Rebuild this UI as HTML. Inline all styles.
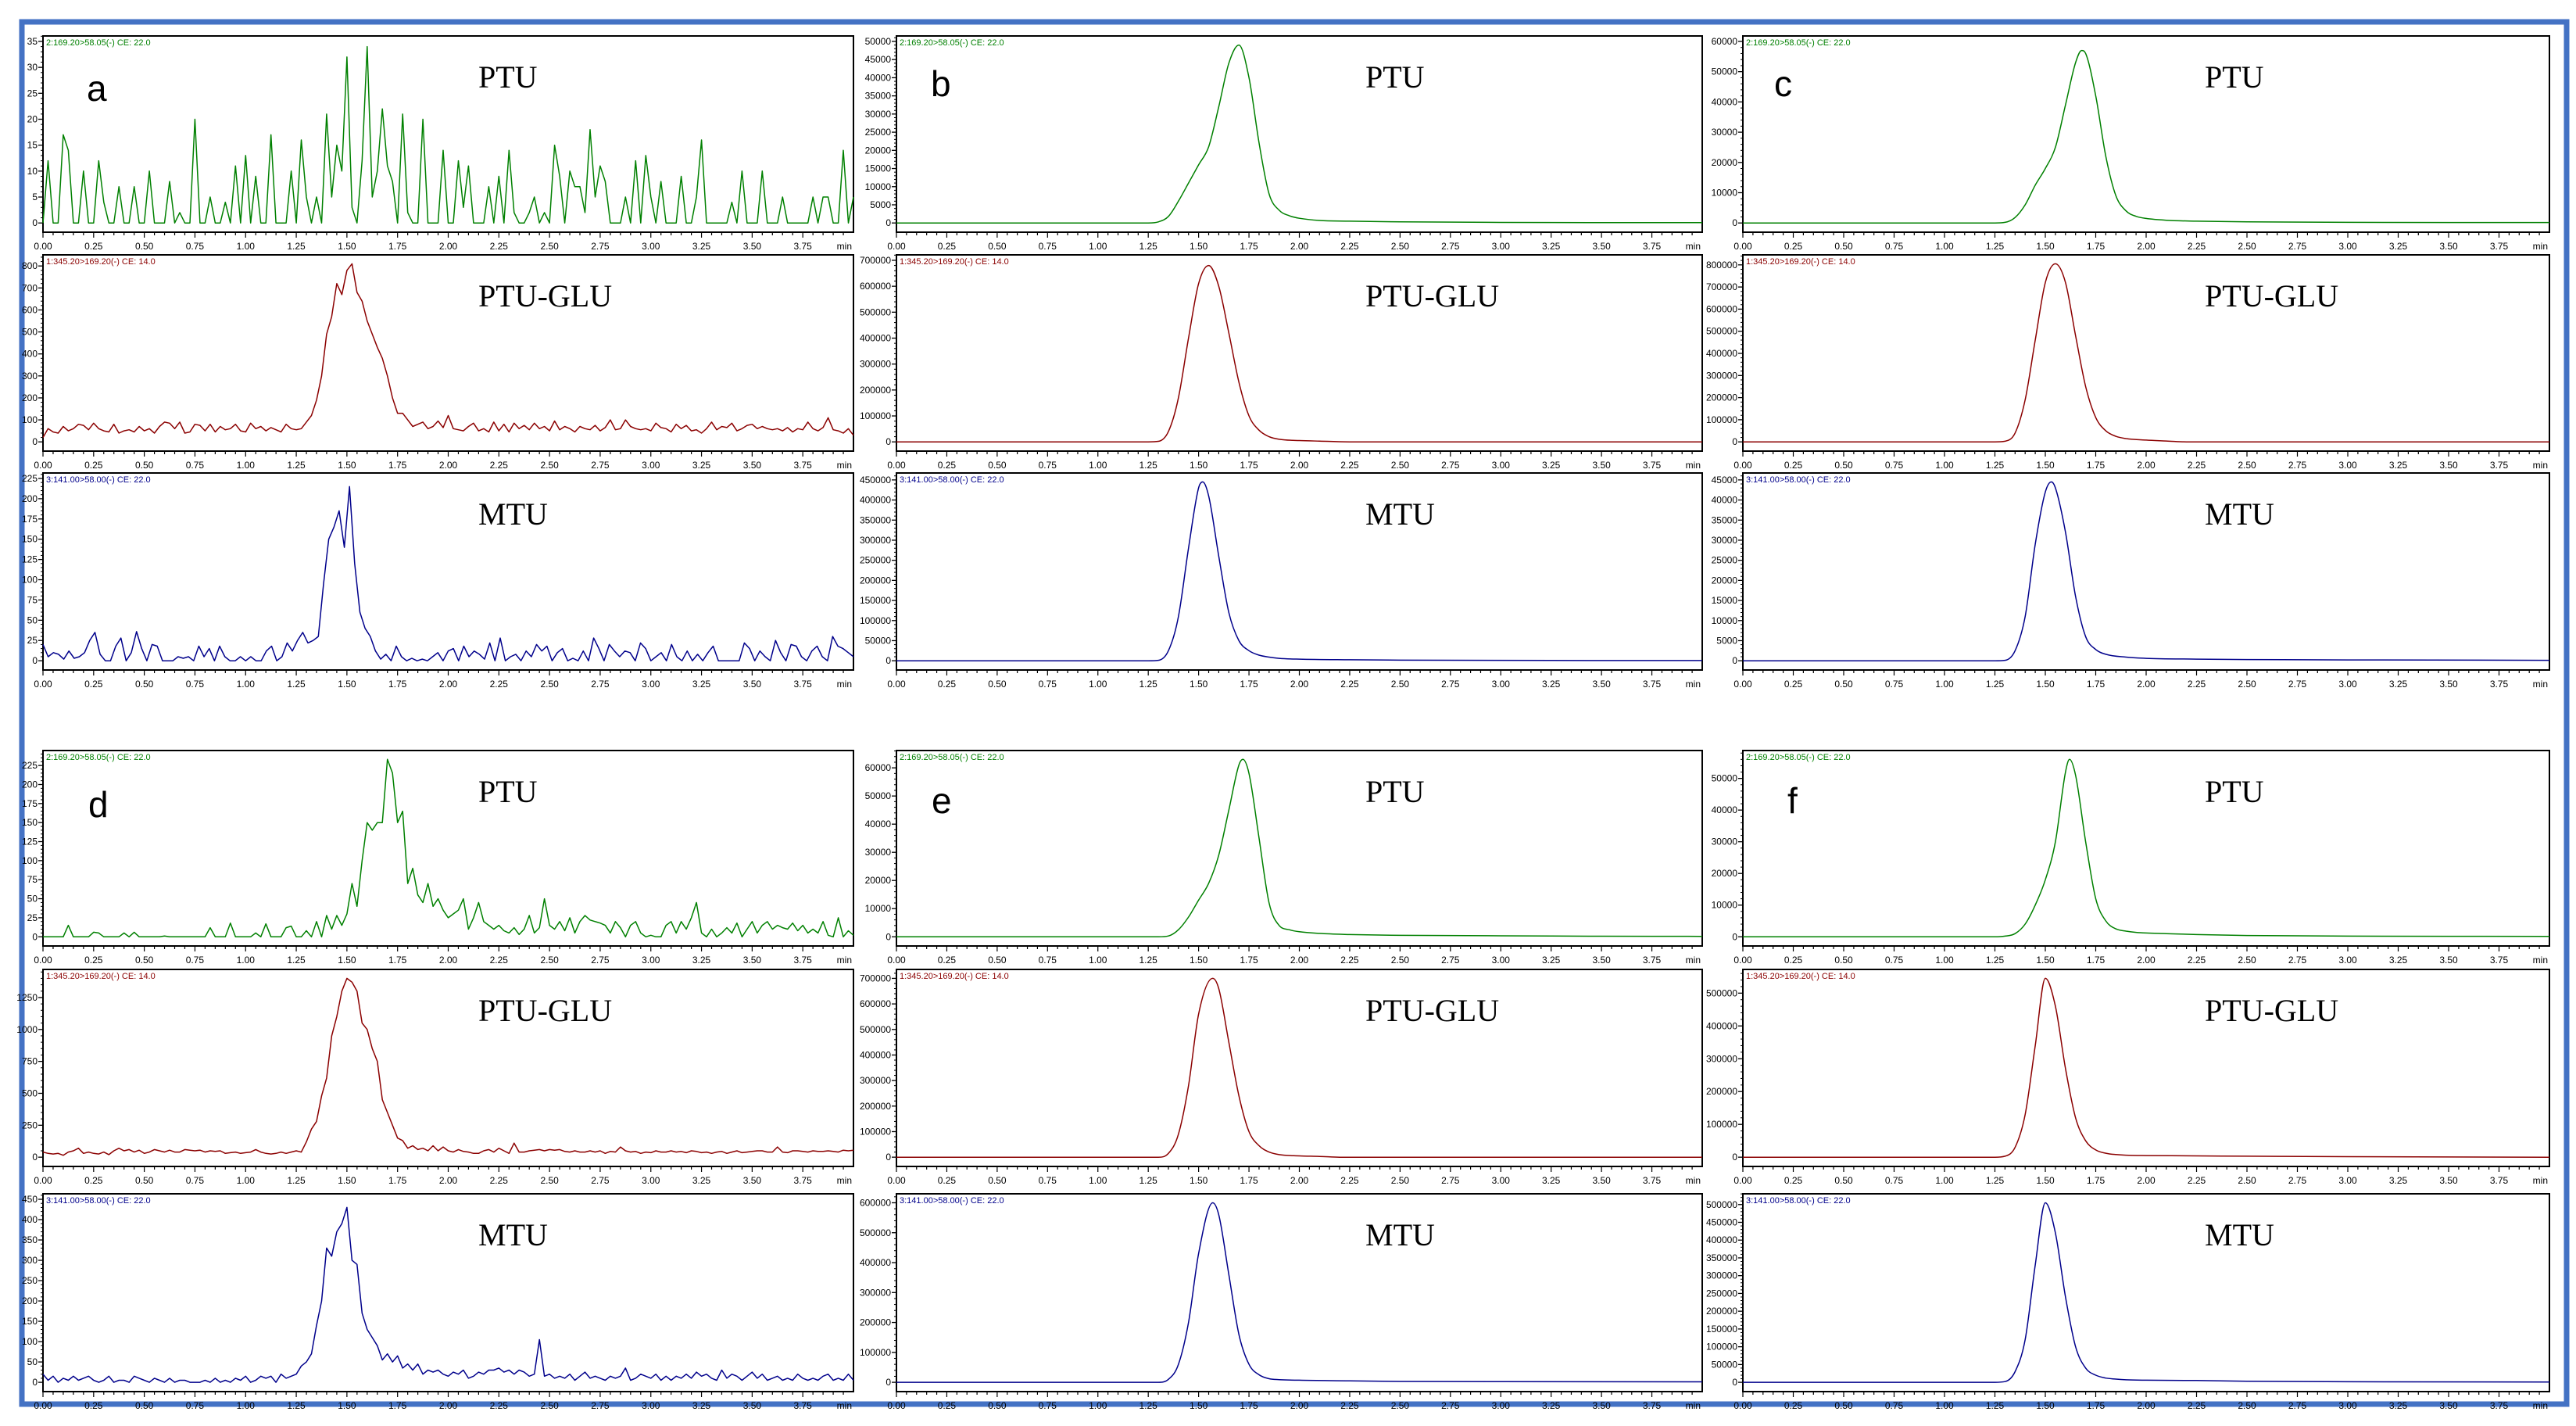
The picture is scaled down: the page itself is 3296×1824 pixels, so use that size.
<!DOCTYPE html>
<html><head><meta charset="utf-8"><title>Chromatograms</title>
<style>
html,body{margin:0;padding:0;background:#fff;}
svg{display:block;}
.tk{font-family:"Liberation Sans",sans-serif;font-size:12px;fill:#000;}
.hd{font-family:"Liberation Sans",sans-serif;font-size:11px;}
.ttl{font-family:"Liberation Serif",serif;font-size:40px;fill:#000;}
.lt{font-family:"Liberation Sans",sans-serif;font-size:46px;fill:#000;}
</style></head>
<body>
<svg id="fig" width="3296" height="1824" viewBox="0 0 3296 1824" xmlns="http://www.w3.org/2000/svg">
<rect x="28" y="28" width="3256" height="1768" fill="none" stroke="#4472C4" stroke-width="7"/>
<g id="panels"></g>
</svg>
<script>
// ---- data: smooth traces (time in min, intensity) ----
const bPtuT=[0,1.25,1.30,1.35,1.40,1.45,1.50,1.55,1.60,1.65,1.70,1.75,1.80,1.85,1.90,1.95,2.00,2.10,2.25,2.50,3.00,3.50,4.00];
const bPtuV=[0,0,300,1800,6000,11000,16000,21000,32000,44000,49000,40000,22000,8000,3500,2000,1300,700,500,300,150,100,100];
const bGluT=[0,1.25,1.30,1.35,1.40,1.45,1.50,1.55,1.60,1.65,1.70,1.75,1.80,1.85,1.90,2.00,2.10,2.25,4.0];
const bGluV=[0,0,2000,40000,170000,400000,610000,680000,600000,420000,230000,100000,45000,20000,10000,5000,3000,0,0];
const bMtuT=[0,1.25,1.30,1.35,1.40,1.45,1.50,1.52,1.55,1.60,1.65,1.70,1.75,1.80,1.85,1.90,2.00,2.25,2.50,4.0];
const bMtuV=[0,0,1000,25000,110000,280000,430000,445000,410000,260000,120000,50000,25000,14000,9000,6000,4000,2500,1500,500];
const cPtuT=[0,1.25,1.30,1.35,1.40,1.45,1.50,1.55,1.60,1.65,1.68,1.70,1.75,1.80,1.85,1.90,1.95,2.00,2.10,2.25,2.50,3.00,3.50,4.00];
const cPtuV=[0,0,200,1800,6000,12500,18000,25000,39000,53000,57000,56000,42000,22000,9000,4000,2200,1500,900,600,400,200,150,150];
const cGluT=[0,1.25,1.30,1.35,1.40,1.45,1.50,1.55,1.60,1.65,1.70,1.75,1.80,1.85,1.90,2.00,2.10,2.20,4.0];
const cGluV=[0,0,3000,40000,190000,460000,720000,805000,720000,480000,250000,110000,50000,25000,15000,8000,4000,0,0];
const cMtuT=[0,1.25,1.30,1.35,1.40,1.45,1.50,1.53,1.55,1.60,1.65,1.70,1.75,1.80,1.90,2.00,2.25,2.50,3.00,4.0];
const cMtuV=[0,0,100,2500,11000,29000,42000,44500,43000,32000,16000,6000,2800,1600,900,600,400,300,200,100];
const ePtuT=[0,1.30,1.35,1.40,1.45,1.50,1.55,1.60,1.65,1.70,1.72,1.75,1.80,1.85,1.90,1.95,2.00,2.10,2.25,2.50,3.00,3.50,4.00];
const ePtuV=[0,0,300,2500,7000,13000,19000,29000,45000,61000,63000,58000,35000,12000,4000,2500,1800,1200,800,500,350,200,150];
const eGluT=[0,1.30,1.35,1.40,1.45,1.50,1.57,1.60,1.65,1.70,1.75,1.80,1.85,1.90,2.00,2.10,2.20,4.0];
const eGluV=[0,0,15000,90000,280000,560000,700000,660000,450000,240000,100000,45000,20000,10000,5000,3000,0,0];
const eMtuT=[0,1.30,1.35,1.40,1.45,1.50,1.57,1.60,1.65,1.70,1.75,1.80,1.85,1.90,2.00,2.25,2.50,3.00,4.0];
const eMtuV=[0,0,10000,60000,200000,430000,600000,560000,360000,160000,60000,25000,12000,9000,7000,5000,3000,2000,1500];
const fPtuT=[0,1.25,1.30,1.35,1.40,1.45,1.50,1.55,1.60,1.62,1.65,1.70,1.75,1.80,1.85,1.90,1.95,2.00,2.10,2.25,2.50,3.00,3.50,4.00];
const fPtuV=[0,0,200,1000,4000,10000,18000,30000,52000,56000,51000,30000,12000,5000,2500,1800,1400,1200,1000,700,400,200,150,100];
const fGluT=[0,1.25,1.30,1.35,1.40,1.45,1.50,1.55,1.60,1.65,1.70,1.75,1.80,1.85,1.90,2.00,2.25,2.50,3.00,4.0];
const fGluV=[0,0,3000,30000,130000,340000,545000,460000,270000,120000,50000,22000,12000,8000,6000,5000,4000,3000,1500,0];
const fMtuT=[0,1.25,1.30,1.35,1.40,1.45,1.50,1.55,1.60,1.65,1.70,1.75,1.80,1.85,1.90,2.00,2.25,2.50,3.00,4.0];
const fMtuV=[0,0,2000,30000,120000,330000,505000,420000,240000,100000,40000,20000,12000,9000,7000,6000,5000,3000,1500,1000];
// ---- data: noisy traces, uniform sampling 0..4 min ----
const aPtuV=[0,12,0,0,17,14,0,0,10,0,0,12,4,0,0,7,0,0,7,0,0,10,0,0,0,8,0,2,0,0,20,0,0,5,0,0,4,0,11,0,13,0,9,0,0,17,0,0,0,10,0,16,5,0,5,0,21,5,15,10,32,3,0,12,34,5,10,22,11,8,0,21,2,0,0,20,0,0,0,14,0,0,12,3,11,0,0,0,7,0,9,0,14,2,0,0,2,5,0,2,0,15,9,0,10,7,7,2,18,5,11,8,0,0,0,5,0,12,0,13,5,0,8,0,0,0,9,0,0,5,16,0,0,0,0,0,4,0,10,0,0,0,10,0,0,0,5,0,0,0,0,0,5,0,5,5,0,0,14,0,5];
const aGluV=[20,60,45,40,70,50,60,80,75,55,85,60,50,45,80,40,50,55,45,70,50,60,40,70,90,85,60,90,40,45,80,75,50,80,45,70,55,60,80,50,45,85,60,70,50,65,55,45,80,60,55,
60,90,120,190,300,490,570,720,670,780,810,680,640,550,490,430,380,300,200,130,130,100,70,
80,90,60,70,95,65,120,60,55,50,70,85,50,60,45,90,50,80,45,85,60,75,55,85,60,70,50,95,55,70,60,45,70,60,55,75,50,65,100,55,60,100,70,60,55,60,50,85,65,60,45,80,60,75,50,55,40,60,90,55,70,65,85,50,60,75,80,60,70,60,55,60,50,65,45,60,55,90,60,50,65,110,55,50,40,60,30];
const aMtuV=[20,5,10,8,2,12,3,5,10,25,35,8,0,0,18,28,0,10,36,15,0,20,18,0,0,0,5,3,5,0,18,5,15,0,18,5,0,0,5,0,5,0,0,12,18,0,5,22,12,25,
35,22,25,30,95,150,165,185,140,215,120,60,40,30,12,2,8,
0,18,5,0,3,0,2,0,5,10,0,12,15,0,18,5,12,8,2,22,0,28,0,5,8,0,12,5,20,12,18,0,10,15,0,3,0,12,0,28,15,0,20,12,5,12,10,0,22,15,0,5,10,0,20,5,0,12,0,8,0,10,18,0,0,0,0,0,22,15,0,12,5,0,25,10,0,20,18,5,0,12,18,5,0,30,18,15,10,5];
const dPtuV=[0,0,0,0,0,15,0,0,0,0,6,5,0,0,0,0,5,0,6,0,0,0,0,0,1,0,0,0,0,0,0,0,0,12,0,0,0,18,0,0,0,0,5,0,17,0,0,0,12,14,0,0,8,0,20,0,
28,10,28,15,30,70,40,100,150,140,150,150,233,215,150,165,70,90,55,45,70,40,50,35,25,30,35,50,10,25,45,20,15,
10,15,8,5,12,3,10,28,5,12,50,15,10,20,8,25,5,20,28,22,20,18,15,5,20,12,0,15,20,5,0,2,0,0,15,20,5,20,10,25,45,5,0,10,0,5,12,5,18,0,10,20,5,15,20,10,15,12,10,18,8,15,5,10,5,20,2,0,25,0,8,2];
const dGluV=[40,30,25,30,15,40,50,70,30,40,30,25,40,20,50,70,50,60,40,55,30,40,60,50,40,55,40,40,60,55,50,55,40,50,45,50,30,35,40,30,35,40,60,40,30,25,30,40,30,40,50,40,
120,220,280,480,620,950,1100,1300,1400,1370,1300,1050,1000,850,750,450,350,250,150,130,70,90,60,
70,50,90,50,80,50,40,60,45,40,30,30,50,60,40,70,50,30,110,40,40,50,55,60,50,60,55,60,45,40,50,40,40,50,40,50,30,45,40,80,50,40,45,30,40,35,50,40,40,50,40,45,35,50,45,35,40,30,40,45,30,40,50,35,40,45,50,50,40,40,80,40,35,50,50,45,40,50,45,45,50,45,40,55,50,55];
const dMtuV=[20,5,15,0,10,5,15,5,10,15,5,0,5,15,0,5,5,0,15,10,5,0,10,5,0,10,0,5,5,0,0,0,5,0,10,0,5,0,10,5,15,0,5,15,10,15,0,20,10,15,
20,40,50,70,140,200,330,310,370,390,430,300,290,170,130,110,90,55,70,50,65,35,45,30,45,20,30,25,30,20,15,
25,20,30,10,15,25,20,30,30,35,25,30,20,30,25,15,20,105,15,20,10,15,10,20,5,15,25,10,15,10,5,15,10,15,35,5,10,20,15,10,20,5,15,5,15,10,20,10,25,15,20,10,5,30,10,20,15,5,15,25,10,20,5,10,15,5,10,5,20,10,5,10,5,15,20,5,10,5,20,5];
// ---- axis labels ----
const xTickLabels=["0.00","0.25","0.50","0.75","1.00","1.25","1.50","1.75","2.00","2.25","2.50","2.75","3.00","3.25","3.50","3.75"];
const HDR={ptu:"2:169.20>58.05(-) CE: 22.0",glu:"1:345.20>169.20(-) CE: 14.0",mtu:"3:141.00>58.00(-) CE: 22.0"};
const COL={ptu:"#008000",glu:"#8B0000",mtu:"#00008B"};
const NAME={ptu:"PTU",glu:"PTU-GLU",mtu:"MTU"};
const colX=[[55,1092],[1147,2178],[2230,3262]];
const rowY=[[46,297],[326,577],[605,857],[960,1210],[1240,1492],[1527,1780]];
const titleX=[612,1747,2821];
const panels=[
 {id:"a",c:0,r:0,k:"ptu",v:aPtuV,step:5,lmax:35},
 {id:"a",c:0,r:1,k:"glu",v:aGluV,step:100,lmax:800},
 {id:"a",c:0,r:2,k:"mtu",v:aMtuV,step:25,lmax:225},
 {id:"b",c:1,r:0,k:"ptu",t:bPtuT,v:bPtuV,step:5000,lmax:50000},
 {id:"b",c:1,r:1,k:"glu",t:bGluT,v:bGluV,step:100000,lmax:700000},
 {id:"b",c:1,r:2,k:"mtu",t:bMtuT,v:bMtuV,step:50000,lmax:450000},
 {id:"c",c:2,r:0,k:"ptu",t:cPtuT,v:cPtuV,step:10000,lmax:60000},
 {id:"c",c:2,r:1,k:"glu",t:cGluT,v:cGluV,step:100000,lmax:800000},
 {id:"c",c:2,r:2,k:"mtu",t:cMtuT,v:cMtuV,step:5000,lmax:45000},
 {id:"d",c:0,r:3,k:"ptu",v:dPtuV,step:25,lmax:225},
 {id:"d",c:0,r:4,k:"glu",v:dGluV,step:250,lmax:1250},
 {id:"d",c:0,r:5,k:"mtu",v:dMtuV,step:50,lmax:450},
 {id:"e",c:1,r:3,k:"ptu",t:ePtuT,v:ePtuV,step:10000,lmax:60000},
 {id:"e",c:1,r:4,k:"glu",t:eGluT,v:eGluV,step:100000,lmax:700000},
 {id:"e",c:1,r:5,k:"mtu",t:eMtuT,v:eMtuV,step:100000,lmax:600000},
 {id:"f",c:2,r:3,k:"ptu",t:fPtuT,v:fPtuV,step:10000,lmax:50000},
 {id:"f",c:2,r:4,k:"glu",t:fGluT,v:fGluV,step:100000,lmax:500000},
 {id:"f",c:2,r:5,k:"mtu",t:fMtuT,v:fMtuV,step:50000,lmax:500000}
];
const letterPos={a:[111,129],b:[1191,123],c:[2270,123],d:[113,1045],e:[1192,1040],f:[2287,1040]};
const NS="http://www.w3.org/2000/svg";
const root=document.getElementById("panels");
function mk(tag,attrs,parent){const e=document.createElementNS(NS,tag);for(const k in attrs)e.setAttribute(k,attrs[k]);(parent||root).appendChild(e);return e;}
function pathLinear(pts){return pts.map((p,i)=>(i?"L":"M")+p[0].toFixed(1)+","+p[1].toFixed(1)).join("");}
// monotone cubic (Fritsch-Carlson) - no overshoot
function pathMono(pts){
 const n=pts.length,dx=[],s=[],m=new Array(n);
 for(let i=0;i<n-1;i++){dx[i]=pts[i+1][0]-pts[i][0];s[i]=(pts[i+1][1]-pts[i][1])/dx[i];}
 m[0]=s[0];m[n-1]=s[n-2];
 for(let i=1;i<n-1;i++){ if(s[i-1]*s[i]<=0)m[i]=0; else { m[i]=(s[i-1]+s[i])/2; } }
 for(let i=0;i<n-1;i++){ if(s[i]===0){m[i]=0;m[i+1]=0;continue;}
  const a=m[i]/s[i],b=m[i+1]/s[i],h=a*a+b*b; if(h>9){const t=3/Math.sqrt(h);m[i]=t*a*s[i];m[i+1]=t*b*s[i];} }
 let d="M"+pts[0][0].toFixed(1)+","+pts[0][1].toFixed(1);
 for(let i=0;i<n-1;i++){const h=dx[i];
  d+="C"+(pts[i][0]+h/3).toFixed(1)+","+(pts[i][1]+m[i]*h/3).toFixed(1)+" "+(pts[i+1][0]-h/3).toFixed(1)+","+(pts[i+1][1]-m[i+1]*h/3).toFixed(1)+" "+pts[i+1][0].toFixed(1)+","+pts[i+1][1].toFixed(1);}
 return d;}
panels.forEach(p=>{
 const [x0,x1]=colX[p.c],[y0,y1]=rowY[p.r],H=y1-y0;
 const g=mk("g",{});
 
 
 const dmax=Math.max(...p.v);
 const yTop=Math.max(dmax*1.05,p.lmax*1.03);
 const yBot=-0.047*yTop/(1-0.047);
 const X=t=>x0+(t/4.0)*(x1-x0);
 const Y=v=>y1-(v-yBot)/(yTop-yBot)*H;
 const box=mk("rect",{x:x0,y:y0,width:x1-x0,height:H,fill:"none",stroke:"#000","stroke-width":2},g);
 
 
 for(let v=0;v<=p.lmax+1e-9;v+=p.step){
  const yy=Y(v);
  mk("line",{x1:x0-6,y1:yy,x2:x0,y2:yy,stroke:"#000","stroke-width":1.3},g);
  const tl=mk("text",{x:x0-7,y:yy+4,"text-anchor":"end",class:"tk"},g);
  tl.textContent=String(Math.round(v));
  
  
  for(let m=1;m<5;m++){const vv=v+m*p.step/5;const ym=Y(vv);if(ym>y0)mk("line",{x1:x0-3,y1:ym,x2:x0,y2:ym,stroke:"#000","stroke-width":1},g);}
 }
 for(let i=0;i<80;i++){const t=i*0.05,xx=X(t);const major=i%5===0;
  mk("line",{x1:xx,y1:y1,x2:xx,y2:y1+(major?7:4),stroke:"#000","stroke-width":1.2},g);}
 xTickLabels.forEach((s,i)=>{const tl=mk("text",{x:X(i*0.25),y:y1+22,"text-anchor":"middle",class:"tk"},g);tl.textContent=s;
  
  });
 const mn=mk("text",{x:x1-2,y:y1+22,"text-anchor":"end",class:"tk"},g);mn.textContent="min";
 
 
 const hd=mk("text",{x:x0+4,y:y0+12,class:"hd",fill:COL[p.k]},g);hd.textContent=HDR[p.k];
 
 
 let pts;
 if(p.t){pts=p.t.map((t,i)=>[X(t),Y(p.v[i])]);}
 else{const n=p.v.length;pts=p.v.map((v,i)=>[X(i*4.0/(n-1)),Y(v)]);}
 const tr=mk("path",{d:p.t?pathMono(pts):pathLinear(pts),fill:"none",stroke:COL[p.k],"stroke-width":1.5,"stroke-linejoin":"round"},g);
 
 
 const tt=mk("text",{x:titleX[p.c],y:y0+66,class:"ttl"},g);tt.textContent=NAME[p.k];
 
 
});
Object.keys(letterPos).forEach(k=>{const t=mk("text",{x:letterPos[k][0],y:letterPos[k][1],class:"lt"});t.textContent=k;
 
 });
</script>
</body></html>
